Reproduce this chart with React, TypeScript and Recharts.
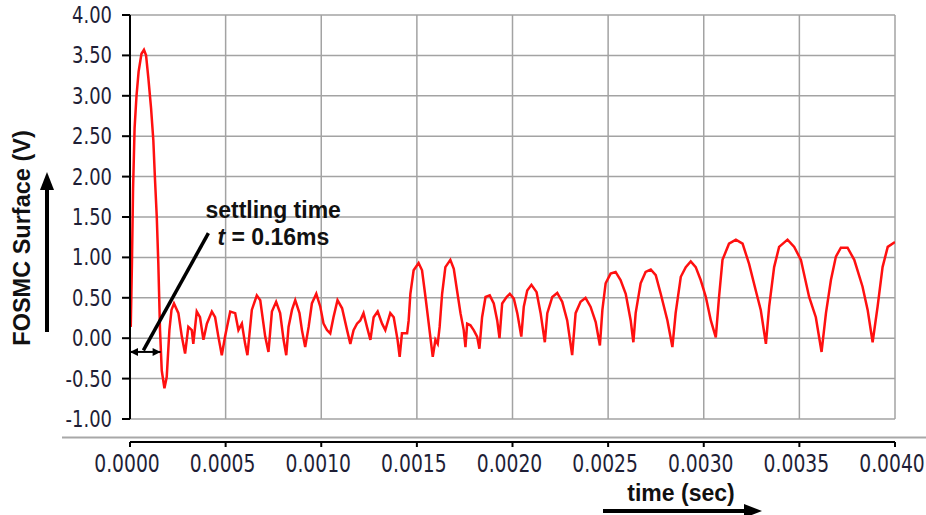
import { CartesianGrid, Line, LineChart, ReferenceLine, XAxis, YAxis } from 'recharts'

// time in seconds, surface in volts
const timeSec = [
  0.000004, 0.00001, 0.000016, 0.000024, 0.000034, 0.000045, 0.00006, 0.000073, 0.000084, 0.000096,
  0.00011, 0.000122, 0.00013, 0.00014, 0.000148, 0.000157, 0.000166, 0.00018, 0.000192, 0.000206,
  0.000217, 0.00023, 0.000253, 0.000271, 0.000288, 0.000305, 0.000323, 0.000331, 0.000349, 0.000366,
  0.000384, 0.000402, 0.000428, 0.000445, 0.000462, 0.00048, 0.000497, 0.000524, 0.00055, 0.000567,
  0.000585, 0.000602, 0.000614, 0.000637, 0.000663, 0.000681, 0.000707, 0.000724, 0.000742, 0.000764,
  0.000785, 0.000803, 0.000817, 0.000829, 0.000847, 0.000864, 0.000886, 0.000899, 0.000916, 0.000934,
  0.000951, 0.000974, 0.000995, 0.001012, 0.00103, 0.001047, 0.001064, 0.001085, 0.001109, 0.001135,
  0.001152, 0.001169, 0.001187, 0.001204, 0.001221, 0.001239, 0.001257, 0.001274, 0.001295, 0.001318,
  0.001335, 0.001361, 0.001379, 0.001399, 0.00141, 0.001422, 0.001449, 0.001457, 0.001466, 0.001483,
  0.001509, 0.001527, 0.001545, 0.001562, 0.001583, 0.001597, 0.001609, 0.001619, 0.001632, 0.001649,
  0.001675, 0.001693, 0.00171, 0.001728, 0.001745, 0.001754, 0.001763, 0.00178, 0.001797, 0.001815,
  0.001827, 0.001841, 0.001859, 0.001881, 0.001902, 0.00192, 0.001932, 0.001946, 0.001969, 0.001986,
  0.002007, 0.002025, 0.002046, 0.002059, 0.002077, 0.002099, 0.002126, 0.002147, 0.002169, 0.002182,
  0.002208, 0.002234, 0.00226, 0.002286, 0.002312, 0.00233, 0.002356, 0.002382, 0.002408, 0.002435,
  0.002457, 0.00247, 0.002487, 0.002513, 0.002539, 0.002565, 0.002592, 0.002618, 0.002632, 0.002644,
  0.00267, 0.002696, 0.002723, 0.002749, 0.002775, 0.00281, 0.002836, 0.002853, 0.00288, 0.002906,
  0.002932, 0.002958, 0.002984, 0.003011, 0.003037, 0.003063, 0.00308, 0.003098, 0.003132, 0.003168,
  0.003203, 0.003237, 0.003272, 0.003298, 0.003325, 0.003342, 0.003368, 0.003394, 0.003438, 0.003473,
  0.003508, 0.003551, 0.003586, 0.003616, 0.003639, 0.003665, 0.003691, 0.003717, 0.003752, 0.003787,
  0.00383, 0.003857, 0.003883, 0.003909, 0.003935, 0.003962, 0.004,
]

const surface = [
  0.14, 0.9, 1.85, 2.6, 3.0, 3.3, 3.52, 3.57, 3.5, 3.22,
  2.85, 2.45, 2.0, 1.5, 0.93, 0.1, -0.4, -0.62, -0.48, 0.1,
  0.35, 0.43, 0.31, 0.02, -0.19, 0.14, 0.1, -0.07, 0.33, 0.26,
  -0.02, 0.18, 0.33, 0.26, 0.02, -0.21, 0.02, 0.33, 0.31, 0.1,
  0.18, -0.07, -0.21, 0.35, 0.53, 0.47, 0.02, -0.17, 0.33, 0.45,
  0.31, -0.02, -0.21, 0.14, 0.35, 0.47, 0.31, 0.1, -0.11, 0.14,
  0.43, 0.55, 0.39, 0.18, 0.1, 0.06, 0.26, 0.47, 0.37, 0.1,
  -0.07, 0.1, 0.18, 0.22, 0.31, 0.14, -0.02, 0.26, 0.33, 0.18,
  0.1, 0.31, 0.26, -0.02, -0.23, 0.06, 0.06, 0.22, 0.55, 0.84,
  0.93, 0.84, 0.51, 0.18, -0.23, -0.02, -0.07, 0.14, 0.55, 0.88,
  0.97, 0.86, 0.59, 0.31, 0.1, -0.11, 0.18, 0.16, 0.1, 0.02,
  -0.13, 0.26, 0.51, 0.53, 0.43, 0.22, 0, 0.43, 0.51, 0.55,
  0.49, 0.31, 0.02, 0.39, 0.59, 0.66, 0.57, 0.31, -0.05, 0.31,
  0.51, 0.56, 0.45, 0.22, -0.21, 0.31, 0.45, 0.5, 0.39, 0.2,
  -0.09, 0.35, 0.68, 0.8, 0.82, 0.72, 0.55, 0.22, -0.05, 0.31,
  0.68, 0.82, 0.85, 0.78, 0.55, 0.22, -0.11, 0.31, 0.76, 0.88,
  0.95, 0.88, 0.72, 0.51, 0.22, 0.01, 0.51, 0.97, 1.17, 1.22,
  1.17, 0.92, 0.59, 0.35, -0.07, 0.39, 0.88, 1.13, 1.22, 1.13,
  0.97, 0.51, 0.26, -0.17, 0.31, 0.72, 1.01, 1.12, 1.12, 0.97,
  0.64, 0.35, -0.05, 0.39, 0.88, 1.13, 1.19,
]

const xTicks = [0, 0.0005, 0.001, 0.0015, 0.002, 0.0025, 0.003, 0.0035, 0.004]
const yTicks = [-1, -0.5, 0, 0.5, 1, 1.5, 2, 2.5, 3, 3.5, 4]

const settlingTime = 0.00016

const data = timeSec.map((t, i) => ({ t, v: surface[i] }))

const tickFont = '"DejaVu Sans", Tahoma, Verdana, sans-serif'
const boldFont = '"Liberation Sans", Arial, Helvetica, sans-serif'
const tickColor = '#1e1e36'

function XTick({ x, y, payload }: any) {
  return (
    <g transform={`translate(${x - 3},${y + 25}) scale(0.75,1)`}>
      <text textAnchor="middle" fontFamily={tickFont} fontSize={25} fill={tickColor}>
        {Number(payload.value).toFixed(4)}
      </text>
    </g>
  )
}

function YTick({ x, y, payload }: any) {
  return (
    <g transform={`translate(${x},${y + 8}) scale(0.78,1)`}>
      <text textAnchor="end" fontFamily={tickFont} fontSize={23} fill={tickColor}>
        {Number(payload.value).toFixed(2)}
      </text>
    </g>
  )
}

// double-headed arrow spanning the settling time
function SpanArrow({ x1, y1, x2 }: any) {
  const h = 8
  return (
    <g>
      <line x1={x1} y1={y1} x2={x2} y2={y1} stroke="#000" strokeWidth={2} />
      <polygon points={`${x1},${y1} ${x1 + h},${y1 - 4} ${x1 + h},${y1 + 4}`} fill="#000" />
      <polygon points={`${x2},${y1} ${x2 - h},${y1 - 4} ${x2 - h},${y1 + 4}`} fill="#000" />
    </g>
  )
}

// leader line with the settling time caption at its upper end
function Pointer({ x1, y1, x2, y2 }: any) {
  return (
    <g>
      <line x1={x1} y1={y1} x2={x2} y2={y2} stroke="#000" strokeWidth={3.5} />
      <text x={x2 - 3} y={y2 - 15} fontFamily={boldFont} fontWeight="bold" fontSize={23} fill="#111">
        settling time
      </text>
      <text x={x2 + 9} y={y2 + 12} fontFamily={boldFont} fontWeight="bold" fontSize={23} fill="#111">
        <tspan fontStyle="italic">t</tspan>
        {` = ${(settlingTime * 1000).toFixed(2)}ms`}
      </text>
    </g>
  )
}

export default function App() {
  return (
    <div style={{ position: 'absolute', left: 0, top: 0, width: 926, height: 515, background: '#fff' }}>
      <LineChart width={926} height={515} data={data} margin={{ top: 15, right: 31, bottom: 23, left: 0 }}>
        <CartesianGrid xAxisId="time" stroke="#a3a3a3" strokeWidth={1.5} />
        {/* empty spacer axis: keeps the time axis detached below the plot */}
        <XAxis height={23} axisLine={false} tickLine={false} tick={false} />
        <XAxis
          xAxisId="time"
          dataKey="t"
          type="number"
          domain={[0, 0.004]}
          ticks={xTicks}
          allowDataOverflow
          height={50}
          axisLine={{ stroke: '#000', strokeWidth: 2 }}
          tickLine={{ stroke: '#000', strokeWidth: 2 }}
          tickSize={5}
          tickMargin={0}
          tick={<XTick />}
        />
        <YAxis
          type="number"
          domain={[-1, 4]}
          ticks={yTicks}
          allowDataOverflow
          width={130}
          axisLine={{ stroke: '#000', strokeWidth: 2 }}
          tickLine={{ stroke: '#000', strokeWidth: 2 }}
          tickSize={8}
          tickMargin={10}
          tick={<YTick />}
        />
        <Line
          xAxisId="time"
          dataKey="v"
          type="linear"
          stroke="#ff1010"
          strokeWidth={2.5}
          dot={false}
          isAnimationActive={false}
        />
        <ReferenceLine
          xAxisId="time"
          segment={[{ x: 0, y: -0.17 }, { x: settlingTime, y: -0.17 }]}
          ifOverflow="visible"
          shape={SpanArrow}
        />
        <ReferenceLine
          xAxisId="time"
          segment={[{ x: 0.00007, y: -0.15 }, { x: 0.00041, y: 1.3 }]}
          ifOverflow="visible"
          shape={Pointer}
        />
      </LineChart>
      <svg width={926} height={515} style={{ position: 'absolute', left: 0, top: 0, pointerEvents: 'none' }}>
        <line x1={62} y1={437.5} x2={926} y2={437.5} stroke="#a8a8a8" strokeWidth={2} />
        <text
          transform="translate(30,238) rotate(-90)"
          textAnchor="middle"
          fontFamily={boldFont}
          fontWeight="bold"
          fontSize={23.5}
          fill="#111"
        >
          FOSMC Surface (V)
        </text>
        <line x1={47} y1={332} x2={47} y2={186} stroke="#000" strokeWidth={4} />
        <polygon points="47,172 40,190 54,190" fill="#000" />
        <text x={681} y={501} textAnchor="middle" fontFamily={boldFont} fontWeight="bold" fontSize={23} fill="#111">
          time (sec)
        </text>
        <line x1={603} y1={511} x2={746} y2={511} stroke="#000" strokeWidth={4} />
        <polygon points="762,511 744,504 744,518" fill="#000" />
      </svg>
    </div>
  )
}
